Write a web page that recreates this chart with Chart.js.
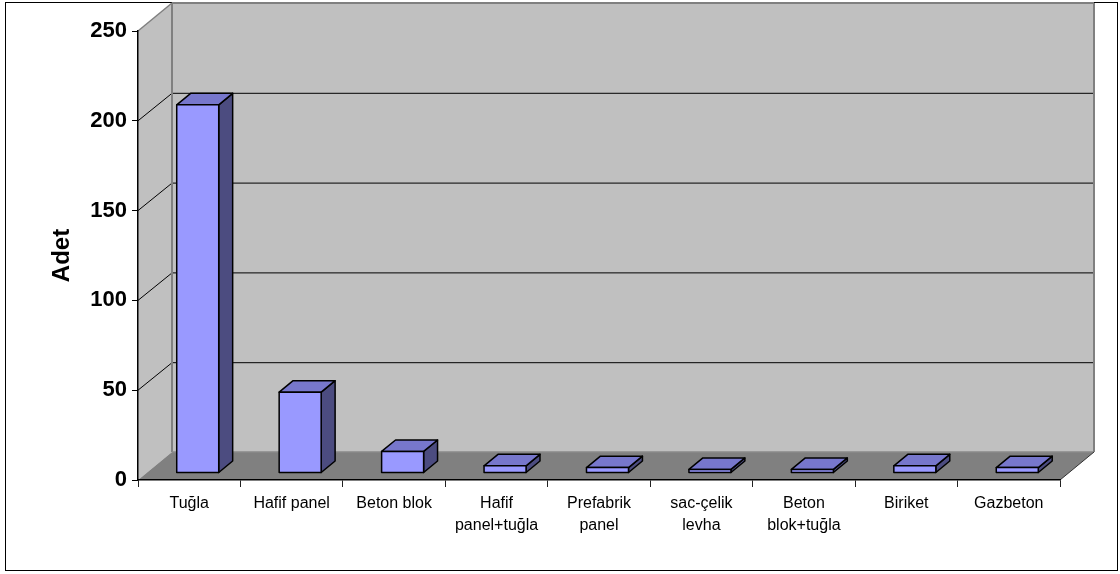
<!DOCTYPE html>
<html>
<head>
<meta charset="utf-8">
<script src="https://cdn.jsdelivr.net/npm/chart.js@4.4.0/dist/chart.umd.min.js"></script>
<style>
  html, body { margin: 0; padding: 0; background: #fff; }
  #wrap { width: 1120px; height: 574px; }
</style>
</head>
<body>
<div id="wrap"><canvas id="c" width="1120" height="574"></canvas></div>
<script>
// Wall types and how many of each
const categories = [
  ['Tuğla'], ['Hafif panel'], ['Beton blok'], ['Hafif', 'panel+tuğla'],
  ['Prefabrik', 'panel'], ['sac-çelik', 'levha'], ['Beton', 'blok+tuğla'],
  ['Biriket'], ['Gazbeton']
];
const counts = [205, 45, 12, 4, 3, 2, 2, 4, 3];
const yTicks = [0, 50, 100, 150, 200, 250];
const yTitle = 'Adet';

// 3D box depth of the plot (offset of back wall from front plane)
const DX = 34, DY = -28;
// bars sit between these fractions of the depth
const BAR_FRONT = 0.25, BAR_BACK = 0.66;

const FONT = '"Liberation Sans", Arial, sans-serif';

function poly(ctx, pts, fill, stroke, lw) {
  ctx.beginPath();
  ctx.moveTo(pts[0][0], pts[0][1]);
  for (let i = 1; i < pts.length; i++) ctx.lineTo(pts[i][0], pts[i][1]);
  ctx.closePath();
  if (fill) { ctx.fillStyle = fill; ctx.fill(); }
  if (stroke) { ctx.strokeStyle = stroke; ctx.lineWidth = lw || 1; ctx.stroke(); }
}
function seg(ctx, x0, y0, x1, y1, color, lw) {
  ctx.beginPath();
  ctx.moveTo(x0, y0); ctx.lineTo(x1, y1);
  ctx.strokeStyle = color; ctx.lineWidth = lw || 1; ctx.stroke();
}

const depthBox = {
  id: 'depthBox',
  beforeDraw(chart) {
    const { ctx, chartArea: a, scales: { y } } = chart;
    const L = a.left, R = a.right, T = a.top, B = a.bottom;
    ctx.save();
    ctx.fillStyle = '#fff';
    ctx.fillRect(0, 0, chart.width, chart.height);
    // outer frame
    ctx.strokeStyle = '#000';
    ctx.lineWidth = 1;
    ctx.strokeRect(5.5, 2.5, 1112, 568);

    // side wall, back wall, floor
    poly(ctx, [[L, T], [L + DX, T + DY], [L + DX, B + DY], [L, B]], '#c0c0c0');
    poly(ctx, [[L + DX, T + DY], [R + DX, T + DY], [R + DX, B + DY], [L + DX, B + DY]], '#c0c0c0');
    poly(ctx, [[L, B], [R, B], [R + DX, B + DY], [L + DX, B + DY]], '#808080');

    // gridlines on back wall and side wall
    yTicks.forEach(v => {
      const py = y.getPixelForValue(v);
      if (v > 0 && v < y.max) {
        seg(ctx, L + DX, py + DY + 0.5, R + DX, py + DY + 0.5, '#000', 1);
        seg(ctx, L, py, L + DX, py + DY + 0.5, '#000', 1);
      }
    });

    // wall edges
    seg(ctx, L, T, L + DX, T + DY, '#808080', 1.5);
    seg(ctx, L + DX, T + DY, R + DX, T + DY, '#808080', 2);
    seg(ctx, R + DX, T + DY, R + DX, B + DY, '#808080', 2);
    seg(ctx, L + DX, T + DY, L + DX, B + DY, '#808080', 2);
    seg(ctx, L + DX, B + DY, R + DX, B + DY, '#8a8a8a', 1.5);
    seg(ctx, R, B, R + DX, B + DY, '#333', 1);
    ctx.restore();
  },
  afterDatasetsDraw(chart) {
    const { ctx } = chart;
    const meta = chart.getDatasetMeta(0);
    const fx = BAR_FRONT * DX, fy = BAR_FRONT * DY;
    const bx = (BAR_BACK - BAR_FRONT) * DX, by = (BAR_BACK - BAR_FRONT) * DY;
    ctx.save();
    ctx.lineJoin = 'round';
    meta.data.forEach(bar => {
      const p = bar.getProps(['x', 'y', 'base', 'width'], true);
      const x0 = p.x - p.width / 2 + fx, x1 = p.x + p.width / 2 + fx;
      const y0 = p.y + fy, y1 = p.base + fy;
      // right side face
      poly(ctx, [[x1, y0], [x1 + bx, y0 + by], [x1 + bx, y1 + by], [x1, y1]], '#4c4c80', '#000', 1.5);
      // top face
      poly(ctx, [[x0, y0], [x0 + bx, y0 + by], [x1 + bx, y0 + by], [x1, y0]], '#7777cc', '#000', 1.5);
      // front face
      poly(ctx, [[x0, y0], [x1, y0], [x1, y1], [x0, y1]], '#9999ff', '#000', 1.5);
    });
    ctx.restore();
  }
};

new Chart(document.getElementById('c'), {
  type: 'bar',
  data: {
    labels: categories,
    datasets: [{
      data: counts,
      backgroundColor: 'rgba(0,0,0,0)',
      borderWidth: 0,
      categoryPercentage: 1,
      barPercentage: 0.41
    }]
  },
  options: {
    responsive: false,
    animation: false,
    devicePixelRatio: 1,
    layout: { padding: { left: 0, right: 60, top: 31, bottom: 0 } },
    plugins: { legend: { display: false }, tooltip: { enabled: false } },
    scales: {
      x: {
        grid: { offset: true, drawOnChartArea: false, drawTicks: true, tickLength: 7, color: '#222', lineWidth: 1 },
        border: { display: true, color: '#000', width: 1.5 },
        ticks: {
          color: '#000',
          maxRotation: 0, minRotation: 0, autoSkip: false,
          padding: 5,
          font: { family: FONT, size: 16, lineHeight: 1.42 }
        },
        afterFit(scale) { scale.height = 94; }
      },
      y: {
        min: 0, max: 250,
        afterBuildTicks(scale) { scale.ticks = yTicks.map(v => ({ value: v })); },
        grid: { drawOnChartArea: false, drawTicks: true, tickLength: 6, color: '#000' },
        border: { display: true, color: '#000', width: 1.5 },
        ticks: {
          color: '#000',
          padding: 5,
          font: { family: FONT, size: 22, weight: 'bold' }
        },
        title: {
          display: true,
          text: yTitle,
          color: '#000',
          padding: { top: 48, bottom: 0 },
          font: { family: FONT, size: 24, weight: 'bold' }
        },
        afterFit(scale) { scale.width = 138; }
      }
    }
  },
  plugins: [depthBox]
});
</script>
</body>
</html>
